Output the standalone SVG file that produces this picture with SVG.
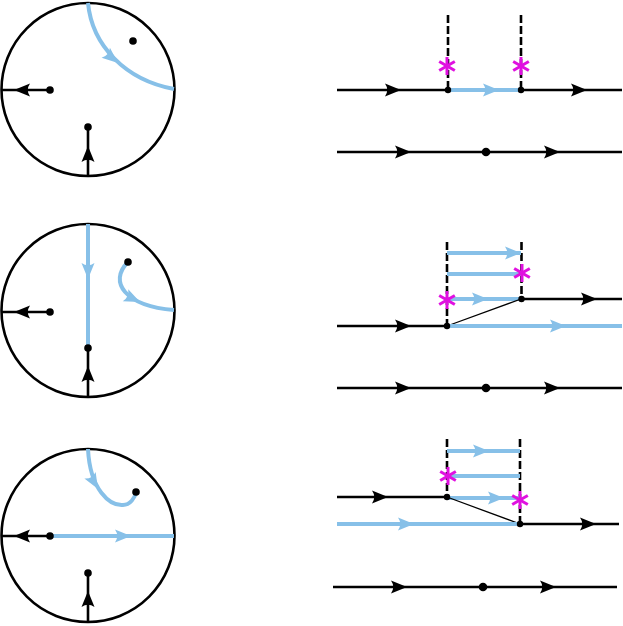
<svg xmlns="http://www.w3.org/2000/svg" xmlns:xlink="http://www.w3.org/1999/xlink" width="623" height="626" viewBox="0 0 623 626">
<style>
.k{stroke:#000;stroke-width:2.6;fill:none}
.b{stroke:#87C0E8;stroke-width:4;fill:none}
.t{stroke:#000;stroke-width:1.3;fill:none}
.d{stroke:#000;stroke-width:2.6;fill:none;stroke-dasharray:8 3}
.c{stroke:#000;stroke-width:2.6;fill:none}
.ak{fill:#000}
.ab{fill:#87C0E8}
.dot{fill:#000}
.st{stroke:#E010E0;stroke-width:3;fill:none}
</style>
<defs>
<path id="ah" d="M0,0 L-16,-6.5 Q-11.5,0 -16,6.5 Z"/>
<g id="ast"><line x1="0" y1="-9" x2="0" y2="9"/><line x1="-7.8" y1="-4.5" x2="7.8" y2="4.5"/><line x1="-7.8" y1="4.5" x2="7.8" y2="-4.5"/></g>
</defs>

<g id="circle1">
<circle class="c" cx="88" cy="89.5" r="86.5"/>
<path class="b" d="M88,3 C92,45 125,80 174,89"/>
<use href="#ah" class="ab" transform="translate(118,63) rotate(40)"/>
<circle class="dot" cx="133" cy="41" r="3.8"/>
<line class="k" x1="2" y1="90" x2="50" y2="90"/>
<use href="#ah" class="ak" transform="translate(14,90) rotate(180)"/>
<circle class="dot" cx="50" cy="90" r="3.8"/>
<line class="k" x1="88" y1="176" x2="88" y2="127"/>
<use href="#ah" class="ak" transform="translate(88,146) rotate(-90)"/>
<circle class="dot" cx="88" cy="127" r="3.8"/>
</g>

<g id="circle2">
<circle class="c" cx="88" cy="310.5" r="86.5"/>
<line class="b" x1="88" y1="224" x2="88" y2="348"/>
<use href="#ah" class="ab" transform="translate(88,279) rotate(90)"/>
<path class="b" d="M128,262 C108,282 125,306 174,310"/>
<use href="#ah" class="ab" transform="translate(140,302) rotate(25)"/>
<circle class="dot" cx="128" cy="262" r="3.8"/>
<line class="k" x1="2" y1="312" x2="50" y2="312"/>
<use href="#ah" class="ak" transform="translate(14,312) rotate(180)"/>
<circle class="dot" cx="50" cy="312" r="3.8"/>
<line class="k" x1="88" y1="397" x2="88" y2="348"/>
<use href="#ah" class="ak" transform="translate(88,366) rotate(-90)"/>
<circle class="dot" cx="88" cy="348" r="3.8"/>
</g>

<g id="circle3">
<circle class="c" cx="88" cy="535.5" r="86.5"/>
<path class="b" d="M88,449 C90,490 110,506 123,505 C130,505 135,498 136,492"/>
<use href="#ah" class="ab" transform="translate(98,489) rotate(60)"/>
<circle class="dot" cx="136" cy="492" r="3.8"/>
<line class="b" x1="50" y1="536" x2="174" y2="536"/>
<use href="#ah" class="ab" transform="translate(131,536)"/>
<line class="k" x1="2" y1="536" x2="50" y2="536"/>
<use href="#ah" class="ak" transform="translate(14,536) rotate(180)"/>
<circle class="dot" cx="50" cy="536" r="3.8"/>
<line class="k" x1="88" y1="622" x2="88" y2="573"/>
<use href="#ah" class="ak" transform="translate(88,591) rotate(-90)"/>
<circle class="dot" cx="88" cy="573" r="3.8"/>
</g>

<g id="panel1">
<line class="d" x1="448" y1="15" x2="448" y2="90"/>
<line class="d" x1="521" y1="15" x2="521" y2="90"/>
<line class="k" x1="337" y1="90" x2="448" y2="90"/>
<use href="#ah" class="ak" transform="translate(401,90)"/>
<line class="b" x1="448" y1="90" x2="521" y2="90"/>
<use href="#ah" class="ab" transform="translate(499,90)"/>
<line class="k" x1="521" y1="90" x2="622" y2="90"/>
<use href="#ah" class="ak" transform="translate(587,90)"/>
<circle class="dot" cx="448" cy="90" r="3.2"/>
<circle class="dot" cx="521" cy="90" r="3.2"/>
<use href="#ast" class="st" transform="translate(447,66)"/>
<use href="#ast" class="st" transform="translate(521,66)"/>
<line class="k" x1="337" y1="152" x2="622" y2="152"/>
<use href="#ah" class="ak" transform="translate(411,152)"/>
<use href="#ah" class="ak" transform="translate(560,152)"/>
<circle class="dot" cx="486" cy="152" r="4.3"/>
</g>

<g id="panel2">
<line class="d" x1="447" y1="242" x2="447" y2="326"/>
<line class="d" x1="521.5" y1="242" x2="521.5" y2="299"/>
<line class="b" x1="447" y1="253" x2="521" y2="253"/>
<use href="#ah" class="ab" transform="translate(521,253)"/>
<line class="b" x1="447" y1="274" x2="521" y2="274"/>
<line class="b" x1="447" y1="299" x2="521" y2="299"/>
<use href="#ah" class="ab" transform="translate(488,299)"/>
<line class="k" x1="521" y1="299" x2="622" y2="299"/>
<use href="#ah" class="ak" transform="translate(597,299)"/>
<line class="t" x1="447" y1="326" x2="521" y2="299"/>
<line class="k" x1="337" y1="326" x2="447" y2="326"/>
<use href="#ah" class="ak" transform="translate(411,326)"/>
<line class="b" x1="447" y1="326" x2="622" y2="326"/>
<use href="#ah" class="ab" transform="translate(566,326)"/>
<circle class="dot" cx="447" cy="326" r="3.2"/>
<circle class="dot" cx="521.5" cy="299" r="3.2"/>
<use href="#ast" class="st" transform="translate(447,300)"/>
<use href="#ast" class="st" transform="translate(522,273)"/>
<line class="k" x1="337" y1="388" x2="622" y2="388"/>
<use href="#ah" class="ak" transform="translate(411,388)"/>
<use href="#ah" class="ak" transform="translate(560,388)"/>
<circle class="dot" cx="486" cy="388" r="4.3"/>
</g>

<g id="panel3">
<line class="d" x1="447" y1="439" x2="447" y2="497"/>
<line class="d" x1="520" y1="439" x2="520" y2="524"/>
<line class="b" x1="447" y1="451" x2="520" y2="451"/>
<use href="#ah" class="ab" transform="translate(489,451)"/>
<line class="b" x1="447" y1="476" x2="520" y2="476"/>
<line class="b" x1="447" y1="498" x2="520" y2="498"/>
<use href="#ah" class="ab" transform="translate(504,498)"/>
<line class="k" x1="337" y1="497" x2="447" y2="497"/>
<use href="#ah" class="ak" transform="translate(388,497)"/>
<line class="t" x1="447" y1="497" x2="520" y2="524"/>
<line class="b" x1="337" y1="524" x2="520" y2="524"/>
<use href="#ah" class="ab" transform="translate(414,524)"/>
<line class="k" x1="520" y1="524" x2="619" y2="524"/>
<use href="#ah" class="ak" transform="translate(596,524)"/>
<circle class="dot" cx="447" cy="497" r="3.2"/>
<circle class="dot" cx="520" cy="524" r="3.2"/>
<use href="#ast" class="st" transform="translate(448,476)"/>
<use href="#ast" class="st" transform="translate(520,500)"/>
<line class="k" x1="333" y1="587" x2="617" y2="587"/>
<use href="#ah" class="ak" transform="translate(407,587)"/>
<use href="#ah" class="ak" transform="translate(556,587)"/>
<circle class="dot" cx="483" cy="587" r="4.3"/>
</g>
</svg>
